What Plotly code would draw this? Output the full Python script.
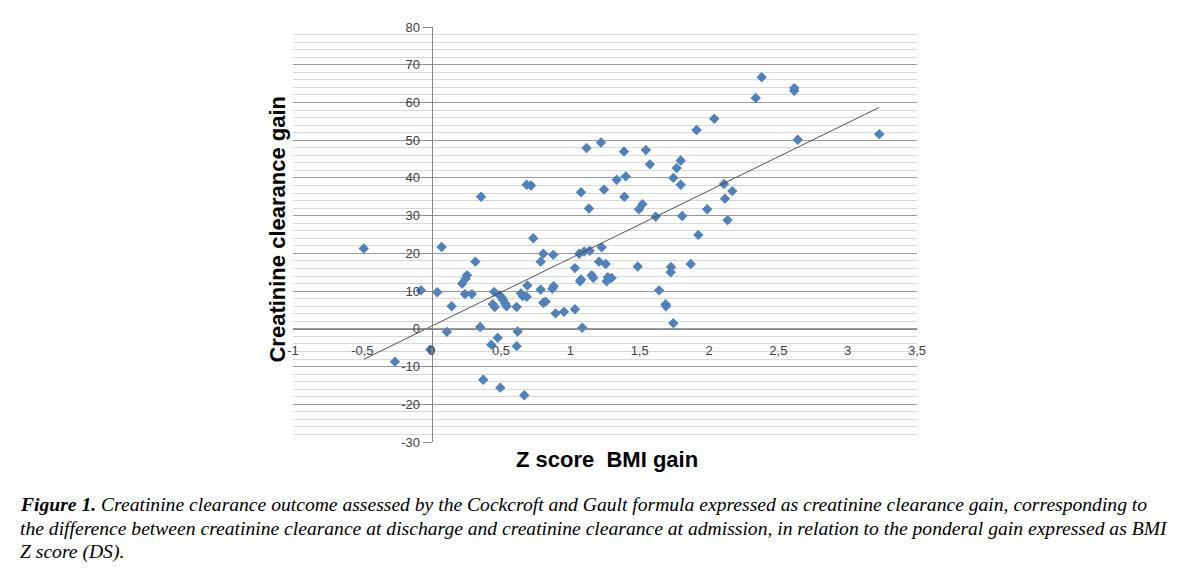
import numpy as np
import plotly.graph_objects as go

# Data
z_bmi_gain = [
    -0.49, -0.265, -0.077, -0.01, 0.04, 0.072, 0.11, 0.144, 0.22, 0.24,
    0.245, 0.255, 0.29, 0.315, 0.356, 0.35, 0.372, 0.43, 0.44, 0.455,
    0.45, 0.476, 0.495, 0.49, 0.505, 0.516, 0.53, 0.54, 0.613, 0.62,
    0.613, 0.644, 0.656, 0.685, 0.69, 0.685, 0.716, 0.668, 0.733, 0.786,
    0.805, 0.786, 0.805, 0.822, 0.877, 0.87, 0.88, 0.894, 0.954, 1.033,
    1.033, 1.077, 1.064, 1.1, 1.14, 1.07, 1.077, 1.086, 1.134, 1.154,
    1.166, 1.207, 1.226, 1.243, 1.255, 1.262, 1.27, 1.298, 1.334, 1.4,
    1.39, 1.486, 1.495, 1.52, 1.117, 1.221, 1.387, 1.545, 1.574, 2.38,
    2.337, 2.038, 1.91, 1.796, 1.767, 1.743, 1.796, 2.108, 2.168, 2.115,
    1.615, 1.807, 1.987, 2.134, 1.923, 1.726, 1.724, 1.868, 1.64, 1.687,
    1.69, 1.743, 2.615, 2.615, 2.64, 3.228,
]
clearance_gain = [
    21.3, -8.7, 10.2, -5.5, 9.7, 21.7, -0.8, 6.0, 12.0, 9.2,
    13.3, 14.2, 9.2, 17.8, 35.0, 0.5, -13.5, -4.2, 6.5, 5.8,
    9.8, -2.4, -15.6, 8.9, 8.3, 7.6, 6.7, 6.0, 5.8, -0.7,
    -4.6, 9.4, 8.7, 8.5, 11.5, 38.2, 38.0, -17.6, 24.0, 17.8,
    19.9, 10.4, 6.9, 7.2, 19.6, 10.6, 11.3, 4.1, 4.5, 16.1,
    5.2, 36.2, 19.9, 20.5, 20.7, 12.6, 13.1, 0.3, 31.9, 14.2,
    13.5, 17.8, 21.6, 36.9, 17.2, 12.6, 13.7, 13.5, 39.5, 40.4,
    35.0, 16.5, 31.7, 33.0, 47.9, 49.4, 47.0, 47.4, 43.6, 66.7,
    61.2, 55.7, 52.7, 44.6, 42.6, 40.0, 38.2, 38.4, 36.5, 34.5,
    29.7, 29.9, 31.7, 28.8, 24.9, 16.4, 15.0, 17.2, 10.2, 6.5,
    6.0, 1.5, 63.8, 63.1, 50.1, 51.6,
]

x_tick_vals = [-1, -0.5, 0, 0.5, 1, 1.5, 2, 2.5, 3, 3.5]
x_tick_text = ["-1", "-0,5", "0", "0,5", "1", "1,5", "2", "2,5", "3", "3,5"]
y_tick_vals = [-30, -20, -10, 0, 10, 20, 30, 40, 50, 60, 70, 80]
y_tick_text = [str(v) for v in y_tick_vals]

x_range = [-1, 3.5]
y_range = [-30, 80]

# Linear trendline (least squares)
slope, intercept = np.polyfit(z_bmi_gain, clearance_gain, 1)
trend_x = [min(z_bmi_gain), max(z_bmi_gain)]
trend_y = [slope * v + intercept for v in trend_x]

fig = go.Figure()
fig.add_trace(go.Scatter(
    x=z_bmi_gain, y=clearance_gain, mode="markers",
    marker=dict(symbol="diamond", size=8, color="#4F81BD", line=dict(width=0)),
    showlegend=False, hoverinfo="skip",
))
fig.add_trace(go.Scatter(
    x=trend_x, y=trend_y, mode="lines",
    line=dict(color="#404040", width=0.9),
    showlegend=False, hoverinfo="skip",
))

W, H = 1192, 579
OFF = 8  # page body margin offset
L, T = 293 - OFF, 24 - OFF
pw, ph = 624, 418
R = W - L - pw
B = H - T - ph

def px_to_paper_x(px):
    return (px - OFF - L) / pw

def px_to_paper_y(py):
    return (T + ph - (py - OFF)) / ph

tick_font = dict(family="Liberation Sans, Arial, sans-serif", size=13, color="#404040")

fig.update_layout(
    width=W, height=H,
    margin=dict(l=L, r=R, t=T, b=B, pad=0),
    paper_bgcolor="white", plot_bgcolor="white",
    xaxis=dict(
        range=x_range, tickmode="array", tickvals=x_tick_vals, ticktext=x_tick_text,
        showgrid=False, zeroline=False, showline=True, linecolor="#868686", linewidth=1,
        ticks="outside", ticklen=10, tickcolor="rgba(0,0,0,0)", tickfont=tick_font,
        anchor="free", position=(0 - y_range[0]) / (y_range[1] - y_range[0]),
    ),
    yaxis=dict(
        range=y_range, tickmode="array", tickvals=y_tick_vals, ticktext=y_tick_text,
        showgrid=True, gridcolor="#9a9a9a", gridwidth=1,
        minor=dict(dtick=2, tick0=0, showgrid=True, gridcolor="#d9d9d9", gridwidth=1),
        zeroline=False, showline=True, linecolor="#868686", linewidth=1,
        ticks="outside", ticklen=9, tickcolor="#868686", tickfont=tick_font,
        anchor="free", position=(0 - x_range[0]) / (x_range[1] - x_range[0]),
    ),
)

title_font = dict(family="Liberation Sans, Arial, sans-serif", size=22, color="black")
annotations = [
    dict(text="<b>Creatinine clearance gain</b>", textangle=-90,
         x=px_to_paper_x(278), y=px_to_paper_y(228), xref="paper", yref="paper",
         showarrow=False, font=title_font, xanchor="center", yanchor="middle"),
    dict(text="<b>Z score\u00a0 BMI gain</b>",
         x=px_to_paper_x(607), y=px_to_paper_y(460), xref="paper", yref="paper",
         showarrow=False, font=title_font, xanchor="center", yanchor="middle"),
]
caption_lines = [
    "<b><i>Figure 1.</i></b><i> Creatinine clearance outcome assessed by the Cockcroft and Gault formula expressed as creatinine clearance gain, corresponding to</i>",
    "<i>the difference between creatinine clearance at discharge and creatinine clearance at admission, in relation to the ponderal gain expressed as BMI</i>",
    "<i>Z score (DS).</i>",
]
cap_font = dict(family="Liberation Serif, Times New Roman, serif", size=19.6, color="black")
for i, line in enumerate(caption_lines):
    annotations.append(dict(
        text=line, x=px_to_paper_x(18), y=px_to_paper_y(505 + 24 * i),
        xref="paper", yref="paper", showarrow=False, font=cap_font,
        xanchor="left", yanchor="middle", align="left",
    ))
fig.update_layout(annotations=annotations)

fig.write_html("out.html")
